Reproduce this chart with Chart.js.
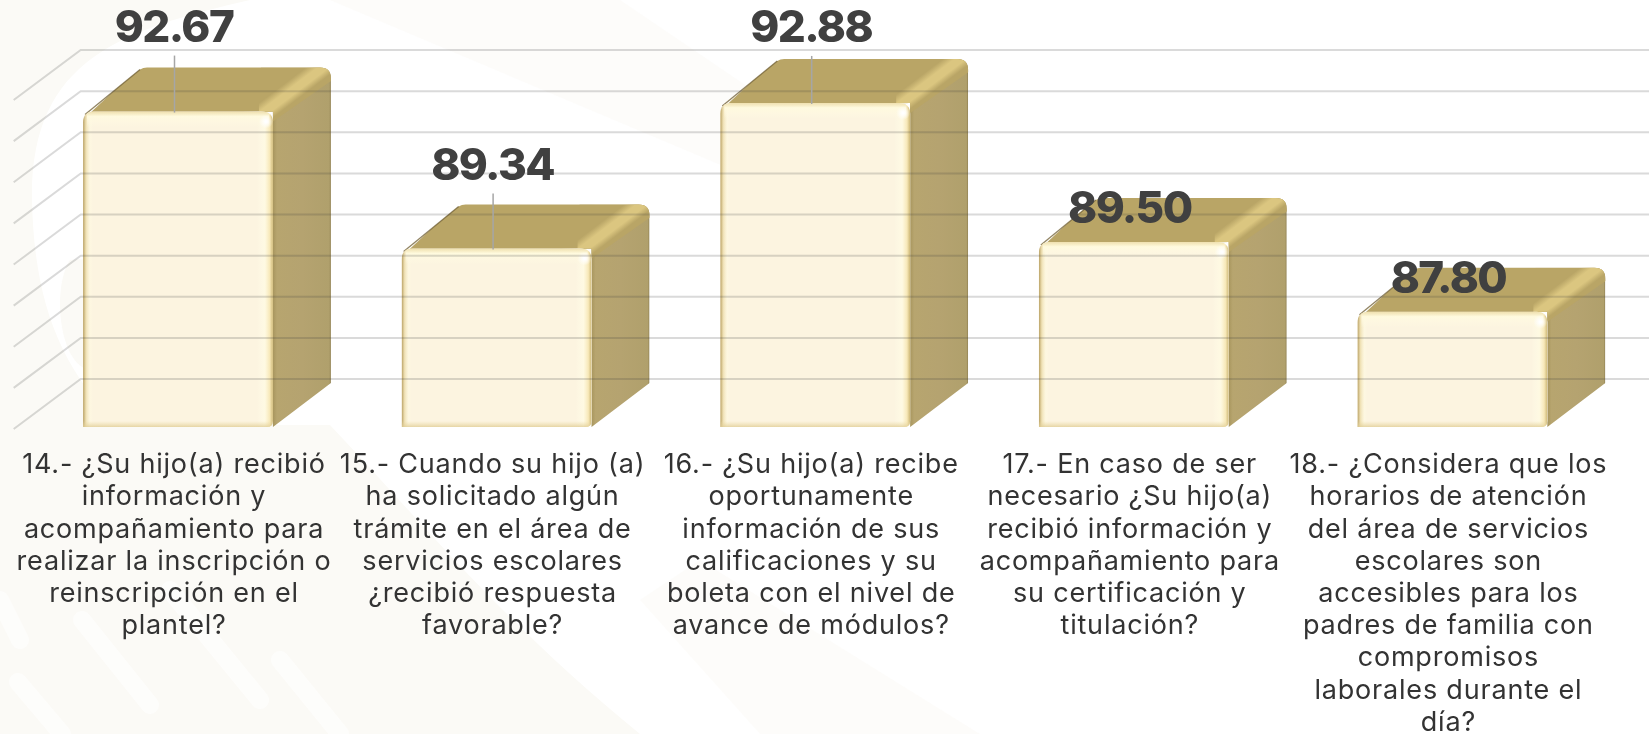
<!DOCTYPE html>
<html lang="es">
<head>
<meta charset="utf-8">
<title>Servicios escolares</title>
<script src="https://cdn.jsdelivr.net/npm/chart.js@4"></script>
<style>
html,body{margin:0;padding:0;background:#fff;width:1649px;height:734px;overflow:hidden}
#bg{position:absolute;left:0;top:0}
#c{position:absolute;left:0;top:0}
</style>
</head>
<body>
<svg id="bg" width="1649" height="734" viewBox="0 0 1649 734">
  <g fill="#fbfaf6">
    <path d="M0 0H250C120 30 30 60 32 200C34 300 60 370 120 425L330 425C420 520 500 620 640 734H0Z"/>
    <path d="M120 120C180 110 190 250 110 240C70 230 80 130 120 120Z"/>
    <path d="M70 260C130 250 150 340 100 370C60 380 50 290 70 260Z"/>
    <path d="M330 0H620L900 190L780 190Z" opacity=".5"/>
    <path d="M700 560L980 734H760L640 600Z" opacity=".55"/>
  </g>
  <g stroke="#fff" stroke-width="18" stroke-linecap="round" fill="none" opacity=".6">
    <path d="M18 682L62 734"/>
    <path d="M82 620L150 705"/>
    <path d="M170 590L260 700"/>
    <path d="M0 600L20 640"/>
    <path d="M280 660L340 734"/>
  </g>
</svg>
<canvas id="c" width="1649" height="734"></canvas>
<script>
const categories = [
  ["14.- ¿Su hijo(a) recibió","información y","acompañamiento para","realizar la inscripción o","reinscripción en el","plantel?"],
  ["15.- Cuando su hijo (a)","ha solicitado algún","trámite en el área de","servicios escolares","¿recibió respuesta","favorable?"],
  ["16.- ¿Su hijo(a) recibe","oportunamente","información de sus","calificaciones y su","boleta con el nivel de","avance de módulos?"],
  ["17.- En caso de ser","necesario ¿Su hijo(a)","recibió información y","acompañamiento para","su certificación y","titulación?"],
  ["18.- ¿Considera que los","horarios de atención","del área de servicios","escolares son","accesibles para los","padres de familia con","compromisos","laborales durante el","día?"]
];
const values = [92.67, 89.34, 92.88, 89.50, 87.80];
const axisMin = 85, axisMax = 93;
const labelLift = [85, 84, 76, 34, 34];

const DEPTH_X = 58, DEPTH_Y = 44, WALL_Y = 48, WALL_INSET = 62, FLOOR_X = 67, FLOOR_Y = 50;
const FONT_SANS = 'Inter, "Open Sans", sans-serif';

function rr(ctx, x1, y1, x2, y2, r, rb){
  ctx.beginPath();
  ctx.moveTo(x1, y2);
  ctx.lineTo(x1, y1 + r);
  ctx.quadraticCurveTo(x1, y1, x1 + r, y1);
  ctx.lineTo(x2 - r, y1);
  ctx.quadraticCurveTo(x2, y1, x2, y1 + r);
  ctx.lineTo(x2, y2 - rb);
  ctx.quadraticCurveTo(x2, y2, x2 - rb, y2);
  ctx.closePath();
}

const bar3d = {
  id: 'bar3d',
  beforeDraw(chart){
    chart.ctx.letterSpacing = '0.8px';
  },
  beforeDatasetsDraw(chart){
    const ctx = chart.ctx;
    chart.getDatasetMeta(0).data.forEach(b => {
      const x1 = b.x - b.width/2, x2 = b.x + b.width/2, y1 = b.y, y2 = b.base;
      const bx = x2 + DEPTH_X, by = y1 - DEPTH_Y;
      ctx.save();
      // combined silhouette of top and side with a rounded back corner
      ctx.beginPath();
      ctx.moveTo(x1 + 2, y1 + 3);
      ctx.lineTo(x1 + DEPTH_X - 1, by + 2);
      ctx.quadraticCurveTo(x1 + DEPTH_X + 2, by, x1 + DEPTH_X + 6, by);
      ctx.lineTo(bx - 11, by);
      ctx.quadraticCurveTo(bx, by, bx, by + 11);
      ctx.lineTo(bx, y2 - DEPTH_Y);
      ctx.lineTo(x2, y2);
      ctx.lineTo(x2, y1);
      ctx.closePath();
      ctx.save();
      ctx.clip();
      // side face
      const sg = ctx.createLinearGradient(x2, 0, bx, 0);
      sg.addColorStop(0, '#a8965e'); sg.addColorStop(0.07, '#b7a56f');
      sg.addColorStop(0.5, '#b5a370'); sg.addColorStop(0.97, '#b0a06c'); sg.addColorStop(1, '#8f8052');
      ctx.fillStyle = sg;
      ctx.fillRect(x2 - 12, by, DEPTH_X + 12, y2 - by);
      // top face
      ctx.fillStyle = '#b9a566';
      ctx.beginPath();
      ctx.moveTo(x1, y1 + 8); ctx.lineTo(x1 + DEPTH_X, by - 2); ctx.lineTo(bx + 2, by - 2);
      ctx.lineTo(bx + 2, by + 12); ctx.lineTo(x2, y1 + 10); ctx.closePath(); ctx.fill();
      // highlighted diagonal edge
      const len = Math.hypot(DEPTH_X, DEPTH_Y), nx = DEPTH_Y / len, ny = DEPTH_X / len;
      const px = x2 + 2, py = y1 - 8;
      const hg = ctx.createLinearGradient(px - nx*10, py - ny*10, px + nx*10, py + ny*10);
      hg.addColorStop(0, 'rgba(219,198,128,0)'); hg.addColorStop(0.35, 'rgba(219,198,128,1)');
      hg.addColorStop(0.7, 'rgba(219,198,128,1)'); hg.addColorStop(1, 'rgba(219,198,128,0)');
      ctx.fillStyle = hg;
      ctx.fillRect(x2 - 14, by - 2, DEPTH_X + 16, DEPTH_Y + 20);
      ctx.restore();
      // dark left edge of top
      ctx.strokeStyle = 'rgba(110,92,48,.75)'; ctx.lineWidth = 1.3;
      ctx.beginPath(); ctx.moveTo(x1 + 2, y1 + 3); ctx.lineTo(x1 + DEPTH_X - 1, by + 2); ctx.stroke();
      ctx.restore();
    });
  },
  afterDatasetsDraw(chart){
    const ctx = chart.ctx;
    const yS = chart.scales.y;
    const a = chart.chartArea;
    ctx.letterSpacing = '0px';
    chart.getDatasetMeta(0).data.forEach(b => {
      const x1 = b.x - b.width/2, x2 = b.x + b.width/2, y1 = b.y, y2 = b.base;
      ctx.save();
      rr(ctx, x1, y1, x2, y2, 11, 6); ctx.clip();
      // left edge
      let g = ctx.createLinearGradient(x1, 0, x1 + 10, 0);
      g.addColorStop(0, 'rgba(176,150,84,.9)'); g.addColorStop(0.3, 'rgba(236,220,170,.8)');
      g.addColorStop(0.7, 'rgba(255,250,225,.5)'); g.addColorStop(1, 'rgba(255,250,225,0)');
      ctx.fillStyle = g; ctx.fillRect(x1, y1, 12, y2 - y1);
      // right edge
      g = ctx.createLinearGradient(x2 - 16, 0, x2, 0);
      g.addColorStop(0, 'rgba(255,252,232,0)'); g.addColorStop(0.5, 'rgba(255,250,226,.9)');
      g.addColorStop(0.8, 'rgba(247,232,184,1)'); g.addColorStop(1, 'rgba(206,184,118,1)');
      ctx.fillStyle = g; ctx.fillRect(x2 - 16, y1, 16, y2 - y1);
      // top edge
      g = ctx.createLinearGradient(0, y1, 0, y1 + 16);
      g.addColorStop(0, 'rgba(238,222,170,.9)'); g.addColorStop(0.3, 'rgba(255,250,222,1)');
      g.addColorStop(0.7, 'rgba(255,249,226,.5)'); g.addColorStop(1, 'rgba(255,250,225,0)');
      ctx.fillStyle = g; ctx.fillRect(x1 + 4, y1, x2 - x1 - 8, 16);
      // bottom edge
      g = ctx.createLinearGradient(0, y2 - 6, 0, y2);
      g.addColorStop(0, 'rgba(235,218,165,0)'); g.addColorStop(1, 'rgba(224,205,150,.8)');
      ctx.fillStyle = g; ctx.fillRect(x1, y2 - 6, x2 - x1, 6);
      // corner glint
      g = ctx.createRadialGradient(x2 - 7, y1 + 10, 1, x2 - 7, y1 + 10, 7);
      g.addColorStop(0, 'rgba(255,255,255,1)'); g.addColorStop(1, 'rgba(255,255,255,0)');
      ctx.fillStyle = g; ctx.fillRect(x2 - 16, y1, 16, 20);
      ctx.restore();
    });

    // walls and gridlines pass over the bars
    ctx.save();
    ctx.strokeStyle = 'rgba(60,60,60,.19)';
    ctx.lineWidth = 2;
    yS.ticks.forEach(t => {
      const y = yS.getPixelForValue(t.value) - WALL_Y;
      const xb = a.left + WALL_INSET;
      ctx.beginPath();
      ctx.moveTo(xb - FLOOR_X, y + FLOOR_Y);
      ctx.lineTo(xb, y);
      ctx.lineTo(chart.width, y);
      ctx.stroke();
    });
    ctx.restore();

    // leader lines and value labels
    ctx.save();
    ctx.textAlign = 'center';
    ctx.textBaseline = 'middle';
    ctx.font = '800 44px ' + FONT_SANS;
    ctx.letterSpacing = '-1.6px';
    chart.getDatasetMeta(0).data.forEach((b, i) => {
      const lx = b.x - 4;
      const ly = b.y - labelLift[i];
      if (labelLift[i] > 50) {
        ctx.strokeStyle = '#a6a6a6'; ctx.lineWidth = 1.5;
        ctx.beginPath(); ctx.moveTo(lx + 0.5, ly + 29); ctx.lineTo(lx + 0.5, b.y + 1); ctx.stroke();
      }
      ctx.fillStyle = '#404040';
      ctx.fillText(values[i].toFixed(2), lx, ly + 2);
    });
    ctx.restore();
  }
};

new Chart(document.getElementById('c'), {
  type: 'bar',
  data: {
    labels: categories,
    datasets: [{
      data: values,
      base: axisMin,
      backgroundColor: '#fcf4e0',
      borderWidth: 0,
      borderSkipped: false,
      borderRadius: {topLeft: 11, topRight: 11, bottomLeft: 2, bottomRight: 6},
      barPercentage: 0.596,
      categoryPercentage: 1
    }]
  },
  options: {
    responsive: false,
    animation: false,
    devicePixelRatio: 1,
    layout: { padding: { left: 18.7, right: 37.3, top: 98, bottom: 0 } },
    plugins: { legend: { display: false }, tooltip: { enabled: false } },
    scales: {
      x: {
        grid: { display: false, drawTicks: false },
        border: { display: false },
        afterFit(s){ s.height = 307; },
        ticks: {
          autoSkip: false, maxRotation: 0, minRotation: 0, padding: 22, labelOffset: -4,
          color: '#333333',
          font: { family: FONT_SANS, size: 27, weight: '400', lineHeight: '32.2px' }
        }
      },
      y: {
        display: false,
        min: axisMin, max: axisMax,
        ticks: { stepSize: 1 },
        grid: { display: false }
      }
    }
  },
  plugins: [bar3d]
});
</script>
</body>
</html>
